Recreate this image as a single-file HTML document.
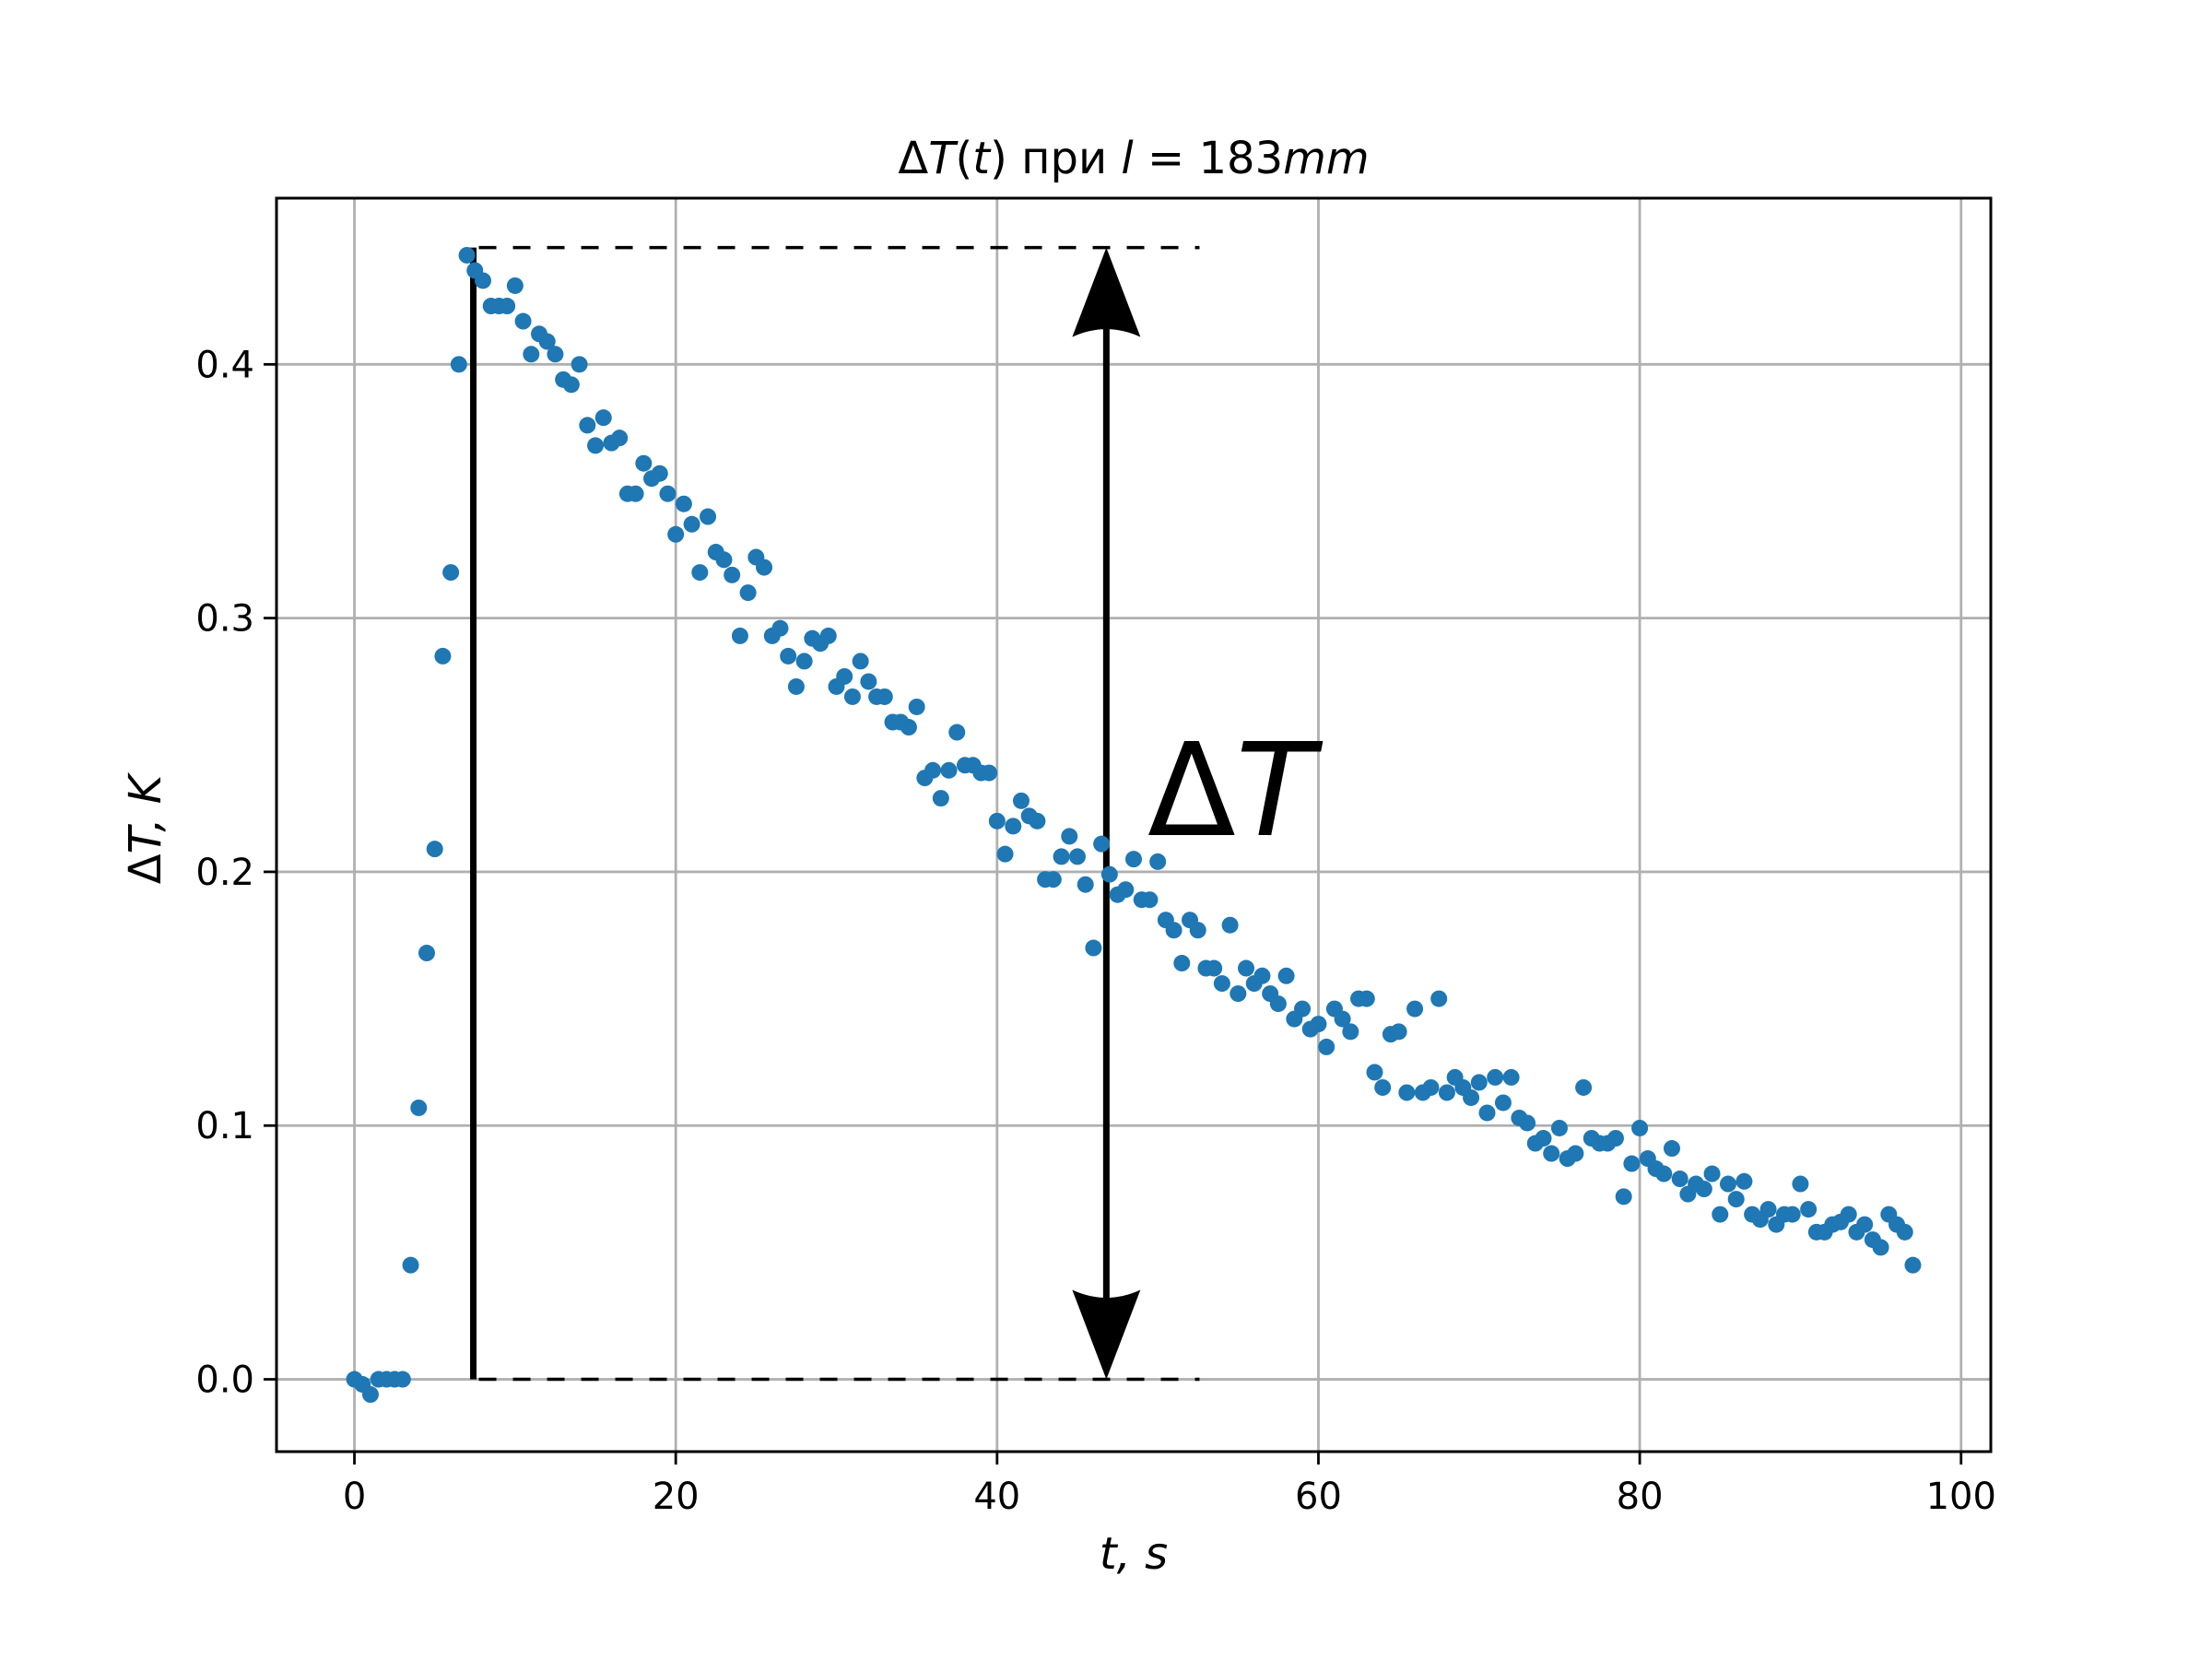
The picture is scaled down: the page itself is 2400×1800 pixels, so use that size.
<!DOCTYPE html>
<html><head><meta charset="utf-8"><style>
html,body{margin:0;padding:0;background:#fff;}
svg{display:block;font-family:"DejaVu Sans","Liberation Sans",sans-serif;}
</style></head><body>
<svg id="chart" width="2400" height="1800" viewBox="0 0 2400 1800" xmlns="http://www.w3.org/2000/svg">
<rect width="2400" height="1800" fill="#fff"/>
<g id="grid"></g><g id="annot"></g><g id="pts"></g><g id="axes"></g>
</svg>
<script>
const tStart = 0, tStep = 0.5;
const dT = [0,-0.002,-0.006,0,0,0,0,0.045,0.107,0.168,0.209,0.285,0.318,0.400,0.443,0.437,0.433,
0.423,0.423,0.423,0.431,0.417,0.404,0.412,0.409,0.404,0.394,0.392,0.400,0.376,0.368,0.379,0.369,0.371,
0.349,0.349,0.361,0.355,0.357,0.349,0.333,0.345,0.337,0.318,0.340,0.326,0.323,0.317,0.293,0.310,0.324,
0.320,0.293,0.296,0.285,0.273,0.283,0.292,0.290,0.293,0.273,0.277,0.269,0.283,0.275,0.269,0.269,0.259,
0.259,0.257,0.265,0.237,0.240,0.229,0.240,0.255,0.242,0.242,0.239,0.239,0.220,0.207,0.218,0.228,0.222,
0.220,0.197,0.197,0.206,0.214,0.206,0.195,0.170,0.211,0.199,0.191,0.193,0.205,0.189,0.189,0.204,0.181,
0.177,0.164,0.181,0.177,0.162,0.162,0.156,0.179,0.152,0.162,0.156,0.159,0.152,0.148,0.159,0.142,0.146,
0.138,0.140,0.131,0.146,0.142,0.137,0.150,0.150,0.121,0.115,0.136,0.137,0.113,0.146,0.113,0.115,0.150,
0.113,0.119,0.115,0.111,0.117,0.105,0.119,0.109,0.119,0.103,0.101,0.093,0.095,0.089,0.099,0.087,0.089,
0.115,0.095,0.093,0.093,0.095,0.072,0.085,0.099,0.087,0.083,0.081,0.091,0.079,0.073,0.077,0.075,0.081,
0.065,0.077,0.071,0.078,0.065,0.063,0.067,0.061,0.065,0.065,0.077,0.067,0.058,0.058,0.061,0.062,0.065,
0.058,0.061,0.055,0.052,0.065,0.061,0.058,0.045];
const xTicks = [0,20,40,60,80,100];
const yTicks = [0.0,0.1,0.2,0.3,0.4];
const peakT = 7.4, peakV = 0.446, arrowT = 46.8, dashEndT = 52.6;

const L=300,R=2160,T=215,B=1575;
const xMin=-4.85,xMax=101.85,yMin=-0.0285,yMax=0.4655;
const X=v=>L+(v-xMin)/(xMax-xMin)*(R-L);
const Y=v=>B-(v-yMin)/(yMax-yMin)*(B-T);
const NS="http://www.w3.org/2000/svg";
function mk(tag,attrs,parent,text){const e=document.createElementNS(NS,tag);for(const k in attrs)e.setAttribute(k,attrs[k]);if(text!==undefined)e.textContent=text;document.getElementById(parent).appendChild(e);return e;}

xTicks.forEach(v=>{
 const g=mk('line',{x1:X(v),x2:X(v),y1:T,y2:B,stroke:'#b0b0b0','stroke-width':2.8},'grid');
 
 
 const tk=mk('line',{x1:X(v),x2:X(v),y1:B,y2:B+14,stroke:'#000','stroke-width':2.8},'axes');
 
 
 const tl=mk('text',{x:X(v),y:B+62,'font-size':40,'text-anchor':'middle'},'axes',String(v));
 
 
});
yTicks.forEach(v=>{
 const g=mk('line',{x1:L,x2:R,y1:Y(v),y2:Y(v),stroke:'#b0b0b0','stroke-width':2.8},'grid');
 
 
 const tk=mk('line',{x1:L-14,x2:L,y1:Y(v),y2:Y(v),stroke:'#000','stroke-width':2.8},'axes');
 
 
 const tl=mk('text',{x:L-24,y:Y(v)+14,'font-size':40,'text-anchor':'end'},'axes',v.toFixed(1));
 
 
});
const frame=mk('rect',{x:L,y:T,width:R-L,height:B-T,fill:'none',stroke:'#000','stroke-width':3},'axes');



// annotations
const vl=mk('line',{x1:X(peakT),x2:X(peakT),y1:Y(0),y2:Y(peakV),stroke:'#000','stroke-width':7},'annot');


[peakV,0].forEach(v=>{
 const d=mk('line',{x1:X(peakT)+6,x2:X(dashEndT),y1:Y(v),y2:Y(v),stroke:'#000','stroke-width':3.5,'stroke-dasharray':'19 18'},'annot');
 
 
});
const ax=X(arrowT), ay1=Y(peakV), ay0=Y(0);
const sh=mk('line',{x1:ax,x2:ax,y1:ay1+80,y2:ay0-80,stroke:'#000','stroke-width':7},'annot');


const h1=mk('path',{d:`M${ax},${ay1} L${ax+37},${ay1+97} Q${ax},${ay1+80} ${ax-37},${ay1+97} Z`,fill:'#000'},'annot');


const h2=mk('path',{d:`M${ax},${ay0} L${ax+37},${ay0-97} Q${ax},${ay0-80} ${ax-37},${ay0-97} Z`,fill:'#000'},'annot');


const dl=mk('text',{x:1245,y:906,'font-size':140},'annot');
dl.innerHTML='Δ<tspan font-style="italic">T</tspan>';



// points
dT.forEach((v,i)=>{
 const c=mk('circle',{cx:X(tStart+i*tStep),cy:Y(v),r:9,fill:'#1f77b4'},'pts');
 
 
});

// titles
const ti=mk('text',{x:1230,y:188,'font-size':48,'text-anchor':'middle'},'axes');
ti.innerHTML='Δ<tspan font-style="italic">T</tspan>(<tspan font-style="italic">t</tspan>) при <tspan font-style="italic">l</tspan> = 183<tspan font-style="italic">mm</tspan>';


const xl=mk('text',{x:1230,y:1702,'font-size':48,'text-anchor':'middle','font-style':'italic'},'axes','t, s');


const yl=mk('text',{x:0,y:0,'font-size':48,'text-anchor':'middle','transform':'translate(174,900) rotate(-90)'},'axes');
yl.innerHTML='Δ<tspan font-style="italic">T, K</tspan>';


</script>
</body></html>
